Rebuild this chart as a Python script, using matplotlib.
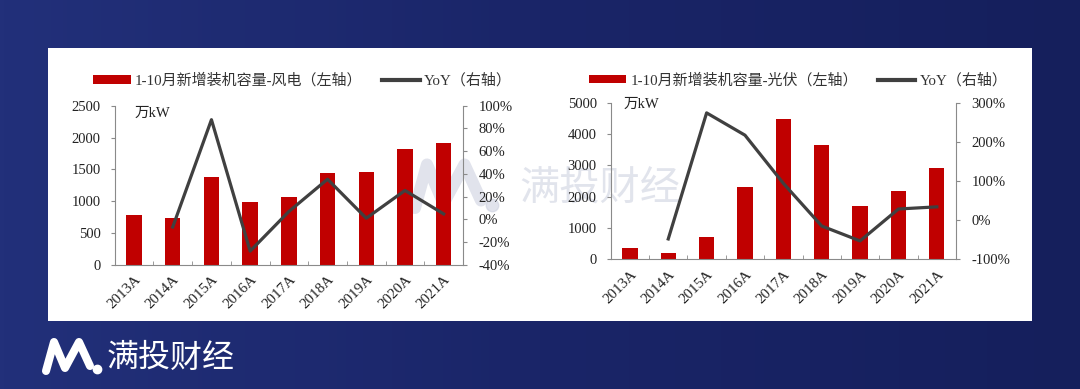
import matplotlib
matplotlib.use("Agg")
import matplotlib.pyplot as plt
import numpy as np
from matplotlib.colors import LinearSegmentedColormap
from matplotlib.lines import Line2D
from matplotlib.patches import Rectangle, Patch

plt.rcParams["font.family"] = ["Liberation Serif", "Noto Sans CJK SC", "DejaVu Sans"]

YEARS = ["2013A", "2014A", "2015A", "2016A", "2017A", "2018A", "2019A", "2020A", "2021A"]
WIND = [786, 734, 1378, 995, 1064, 1441, 1457, 1828, 1918]
WIND_YOY = [np.nan, -6.6, 87.7, -27.8, 7.0, 35.4, 1.1, 25.5, 4.9]
SOLAR = [351, 191, 723, 2319, 4489, 3649, 1702, 2191, 2926]
SOLAR_YOY = [np.nan, -48.0, 274.0, 217.0, 94.0, -15.0, -53.0, 28.5, 34.0]

WIND_LABEL = "1-10月新增装机容量-风电（左轴）"
SOLAR_LABEL = "1-10月新增装机容量-光伏（左轴）"
YOY_LABEL = "YoY（右轴）"
UNIT = "万kW"
BRAND = "满投财经"

RED = "#c00000"
LINE = "#404040"
SPINE = "#8a8a8a"
W, H = 1080, 389


def fx(px):
    return px / W


def fy(py):
    return 1 - py / H


def draw_logo(fig, x0, y0, s, color, alpha, z):
    # stylised "M" mark of the brand
    pts = [(0, 30), (8, 1), (19, 27), (33, 1), (44, 25)]
    xs = [fx(x0 + s * p[0]) for p in pts]
    ys = [fy(y0 + s * p[1]) for p in pts]
    fig.add_artist(Line2D(xs, ys, transform=fig.transFigure, color=color, alpha=alpha,
                          lw=5.8 * s, solid_capstyle="round", solid_joinstyle="round", zorder=z))
    fig.add_artist(Line2D([fx(x0 + s * 51)], [fy(y0 + s * 28)], transform=fig.transFigure,
                          marker="o", markersize=6 * s, color=color, alpha=alpha, lw=0, zorder=z))


def draw_chart(fig, rect, values, yoy, ymax, ystep, rlim, rstep, label, unit_xy, leg_xy):
    ax = fig.add_axes(rect)
    ax.set_facecolor("none")
    x = np.arange(len(YEARS))
    ax.bar(x, values, width=0.4, color=RED, zorder=2)
    ax.set_xlim(-0.5, len(YEARS) - 0.5)
    ax.set_ylim(0, ymax)
    ax.set_yticks(np.arange(0, ymax + 1, ystep))
    ax.set_xticks(x)
    ax.set_xticklabels(YEARS, rotation=45, ha="right", va="top", rotation_mode="anchor")
    ax.set_xticks(np.arange(-0.5, len(YEARS)), minor=True)
    ax.tick_params(axis="x", which="major", length=0, pad=6, labelsize=10.8, labelcolor="#222222")
    ax.tick_params(axis="x", which="minor", direction="in", length=3, color=SPINE)
    ax.tick_params(axis="y", length=3, color=SPINE, pad=7, labelsize=10.5, labelcolor="#222222")
    for side in ("top", "right"):
        ax.spines[side].set_visible(False)
    for side in ("left", "bottom"):
        ax.spines[side].set_color(SPINE)
    ax.text(unit_xy[0], unit_xy[1], UNIT, transform=ax.transAxes, fontsize=10.5,
            va="center", ha="left", color="#222222")

    ax2 = ax.twinx()
    ax2.plot(x, yoy, color=LINE, lw=2.3, zorder=3)
    ax2.set_ylim(*rlim)
    ticks = np.arange(rlim[0], rlim[1] + 1, rstep)
    ax2.set_yticks(ticks)
    ax2.set_yticklabels([f"{t:.0f}%" for t in ticks])
    ax2.tick_params(axis="y", length=3, color=SPINE, pad=8, labelsize=10.5, labelcolor="#222222")
    for side in ("top", "left", "bottom"):
        ax2.spines[side].set_visible(False)
    ax2.spines["right"].set_color(SPINE)

    handles = [Patch(facecolor=RED, edgecolor="none", label=label),
               Line2D([], [], color=LINE, lw=3, label=YOY_LABEL)]
    ax2.legend(handles=handles, ncol=2, loc="center left", bbox_to_anchor=leg_xy,
               frameon=False, fontsize=10.8, handlelength=2.5, handleheight=0.5,
               handletextpad=0.3, columnspacing=1.3, borderpad=0, borderaxespad=0,
               labelcolor="#333333")
    return ax, ax2


fig = plt.figure(figsize=(W / 100, H / 100), dpi=100)

bg = fig.add_axes([0, 0, 1, 1], zorder=-10)
grad = np.linspace(0, 1, 256).reshape(1, -1)
cmap = LinearSegmentedColormap.from_list("bg", ["#22307a", "#1a2568", "#151f5c"])
bg.imshow(grad, aspect="auto", extent=[0, 1, 0, 1], cmap=cmap)
bg.axis("off")

fig.add_artist(Rectangle((fx(48), fy(321)), fx(1032 - 48), (321 - 48) / H,
                         transform=fig.transFigure, facecolor="white", edgecolor="none", zorder=-5))

# watermark
draw_logo(fig, 415, 163, 1.5, "#cdd1e0", 0.6, -4)
fig.text(fx(600), fy(189), BRAND, fontsize=29, color="#d8dbe6", alpha=0.75,
         family="Noto Sans CJK SC", ha="center", va="center", zorder=-4)

draw_chart(fig, [fx(114.7), fy(265), fx(463 - 114.7), (265 - 105.7) / H],
           WIND, WIND_YOY, 2500, 500, (-40, 100), 20, WIND_LABEL, (0.058, 0.954), (-0.062, 1.157))
draw_chart(fig, [fx(610.7), fy(259.3), fx(956 - 610.7), (259.3 - 102.7) / H],
           SOLAR, SOLAR_YOY, 5000, 1000, (-100, 300), 100, SOLAR_LABEL, (0.036, 0.99), (-0.063, 1.145))

# bottom brand
draw_logo(fig, 46, 341, 1.0, "white", 1.0, 5)
fig.text(fx(107), fy(358), BRAND, fontsize=23, color="white", family="Noto Sans CJK SC",
         ha="left", va="center", zorder=5)

fig.savefig("out.png", dpi=100)
